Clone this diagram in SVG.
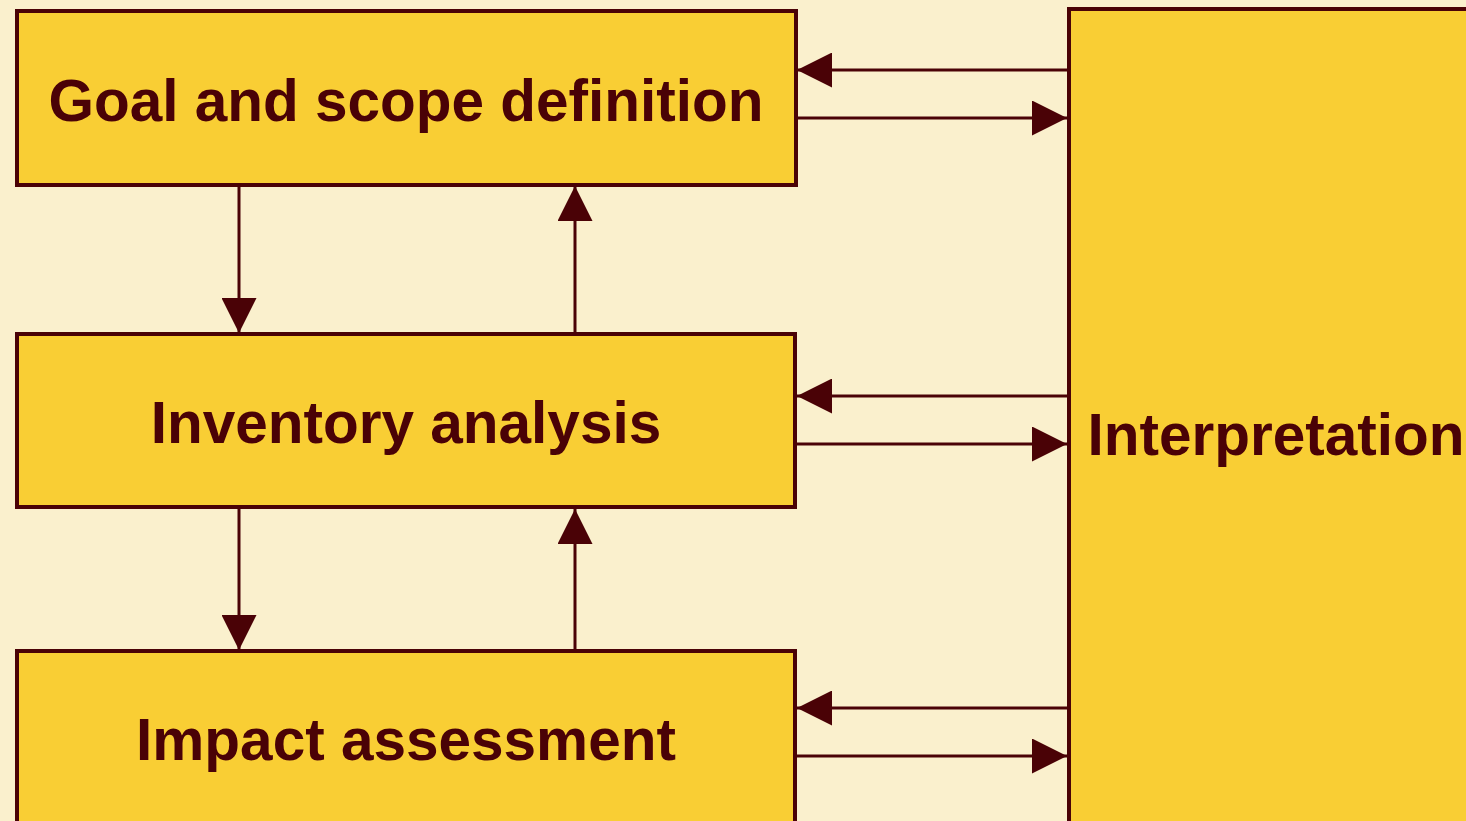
<svg xmlns="http://www.w3.org/2000/svg" width="1466" height="821" viewBox="0 0 1466 821">
<defs>
<style>
.box{fill:#f9ce34;stroke:#4a0206;stroke-width:4}
.lbl{font-family:"Liberation Sans",Arial,sans-serif;font-weight:bold;font-size:58.5px;fill:#4a0206;text-anchor:middle}
.con line{stroke:#4a0206;stroke-width:3}
</style>
<marker id="ah" markerWidth="35" markerHeight="35" viewBox="0 0 35 35" refX="35" refY="17.5" orient="auto" markerUnits="userSpaceOnUse">
<path d="M0,0 L35,17.5 L0,35 Z" fill="#4a0206"/>
</marker>
</defs>
<rect width="1466" height="821" fill="#faf0cd"/>
<g id="goal"><rect class="box" x="17" y="11" width="779" height="174"/><text class="lbl" x="406" y="121">Goal and scope definition</text></g>
<g id="inventory"><rect class="box" x="17" y="334" width="778" height="173"/><text class="lbl" x="406" y="443">Inventory analysis</text></g>
<g id="impact"><rect class="box" x="17" y="651" width="778" height="180"/><text class="lbl" x="406" y="760">Impact assessment</text></g>
<g id="interpretation"><rect class="box" x="1069" y="9" width="420" height="830"/><text class="lbl" x="1276" y="455">Interpretation</text></g>
<g class="con" id="connectors">
<line x1="1069" y1="70" x2="797" y2="70" marker-end="url(#ah)"/>
<line x1="796" y1="118" x2="1067" y2="118" marker-end="url(#ah)"/>
<line x1="1069" y1="396" x2="797" y2="396" marker-end="url(#ah)"/>
<line x1="795" y1="444" x2="1067" y2="444" marker-end="url(#ah)"/>
<line x1="1069" y1="708" x2="797" y2="708" marker-end="url(#ah)"/>
<line x1="795" y1="756" x2="1067" y2="756" marker-end="url(#ah)"/>
<line x1="239" y1="185" x2="239" y2="333" marker-end="url(#ah)"/>
<line x1="575" y1="334" x2="575" y2="186" marker-end="url(#ah)"/>
<line x1="239" y1="507" x2="239" y2="650" marker-end="url(#ah)"/>
<line x1="575" y1="651" x2="575" y2="509" marker-end="url(#ah)"/>
</g>
</svg>
